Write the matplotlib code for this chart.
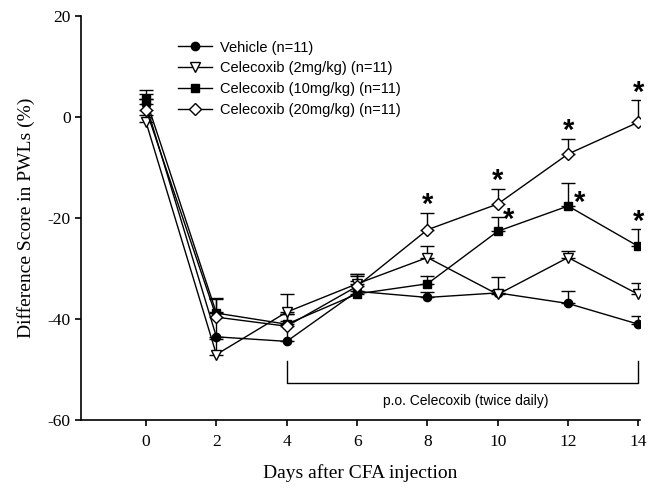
import numpy as np, matplotlib
matplotlib.use('Agg'); import matplotlib.pyplot as plt

days = [0, 2, 4, 6, 8, 10, 12, 14]
labels = ['Vehicle (n=11)', 'Celecoxib (2mg/kg) (n=11)', 'Celecoxib (10mg/kg) (n=11)', 'Celecoxib (20mg/kg) (n=11)']
vehicle = [2.5, -43.5, -44.4, -34.5, -35.7, -34.8, -36.9, -41.0]
vehicle_err = [2.0, 5.0, 4.0, 3.0, 1.0, 3.2, 2.4, 1.6]
cel2 = [-1.0, -47.0, -38.6, -33.0, -27.8, -35.1, -27.8, -35.1]
cel2_err = [1.5, 3.0, 3.6, 2.0, 2.3, 0.8, 1.3, 2.3]
cel10 = [3.5, -38.8, -41.0, -35.0, -33.0, -22.6, -17.6, -25.6]
cel10_err = [1.8, 3.0, 2.0, 2.5, 1.6, 2.8, 4.5, 3.5]
cel20 = [1.5, -39.6, -41.4, -33.5, -22.3, -17.2, -7.3, -1.0]
cel20_err = [2.0, 3.5, 2.5, 2.5, 3.3, 3.0, 3.0, 4.4]
# significance marks: (series, day index, dx, dy relative to error bar top)
stars = [('c20', 4, 0, -1.2), ('c20', 5, 0, -1.2), ('c20', 6, 0, -1.2), ('c20', 7, 0, -1.4),
         ('c10', 5, 0.32, -3.3), ('c10', 6, 0.32, -6.6), ('c10', 7, 0, -1.4)]

plt.rcParams['font.family'] = ['Liberation Serif', 'DejaVu Serif']
plt.rcParams['axes.unicode_minus'] = False
fig = plt.figure(figsize=(6.51, 4.88), dpi=100)
ax = fig.add_axes([0.1244, 0.139, 0.859, 0.828])

series = [(vehicle, vehicle_err, 'o', 'black'), (cel2, cel2_err, 'v', 'white'),
          (cel10, cel10_err, 's', 'black'), (cel20, cel20_err, 'D', 'white')]
msz = {'o': 6, 'v': 7, 's': 6, 'D': 6}
handles = []
for (y, e, m, fc), lab in zip(series, labels):
    y = np.array(y); e = np.array(e)
    ax.errorbar(days, y, yerr=[np.zeros_like(e), e], fmt='none', ecolor='black',
                elinewidth=1, capsize=5, capthick=1, zorder=2)
    h, = ax.plot(days, y, color='black', lw=1, marker=m, ms=msz[m], mfc=fc,
                 mec='black', mew=1, label=lab, zorder=3)
    handles.append(h)

data = {'c10': (cel10, cel10_err), 'c20': (cel20, cel20_err)}
for key, i, dx, dy in stars:
    y, e = data[key]
    top = y[i] + e[i]
    ax.text(days[i] + dx, top + dy, '*', ha='center', va='bottom',
            fontsize=21, fontweight='bold', family='Liberation Sans')

# treatment bracket
ax.plot([4, 4, 14, 14], [-48.3, -52.6, -52.6, -48.3], color='black', lw=1)
ax.text(9.1, -56.2, 'p.o. Celecoxib (twice daily)', ha='center', va='center',
        fontsize=10, family='Liberation Sans')

leg = ax.legend(handles=handles, loc='upper left', bbox_to_anchor=(0.15, 0.972),
                frameon=False, prop={'family': 'Liberation Sans', 'size': 10.5},
                handlelength=2.3, labelspacing=0.47, handletextpad=0.6)

ax.set_xlim(-1.85, 14.05)
ax.set_ylim(-60, 20)
ax.set_xticks(days)
ax.set_yticks([-60, -40, -20, 0, 20])
ax.spines['top'].set_visible(False)
ax.spines['right'].set_visible(False)
ax.spines['left'].set_linewidth(1.2)
ax.spines['bottom'].set_linewidth(1.2)
ax.tick_params(direction='out', length=4, width=1.2, labelsize=12.5)
ax.tick_params(axis='x', pad=6)
ax.set_ylabel('Difference Score in PWLs (%)', fontsize=14, labelpad=9)
ax.set_xlabel('Days after CFA injection', fontsize=14, labelpad=10)

plt.savefig('out.png', dpi=100)
